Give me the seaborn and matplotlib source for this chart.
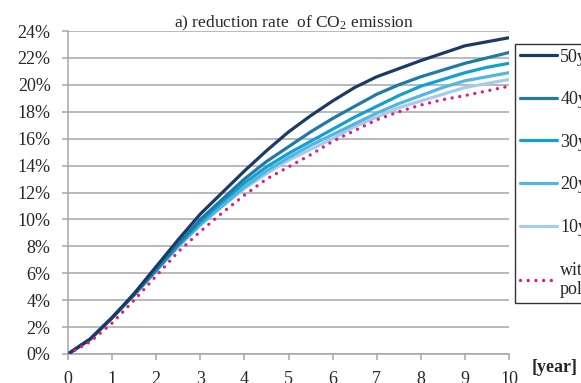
import matplotlib
matplotlib.use("Agg")
import matplotlib.pyplot as plt
import seaborn as sns
import pandas as pd
from matplotlib.ticker import FuncFormatter, MultipleLocator

years = [0, 0.5, 1, 1.5, 2, 2.5, 3, 3.5, 4, 4.5, 5, 5.5, 6, 6.5, 7, 7.5, 8, 8.5, 9, 9.5, 10]
y50 = [0, 1.1, 2.7, 4.5, 6.5, 8.5, 10.4, 12.0, 13.6, 15.1, 16.5, 17.7, 18.8, 19.8, 20.6, 21.2, 21.8, 22.35, 22.9, 23.2, 23.5]
y40 = [0, 1.1, 2.7, 4.4, 6.3, 8.2, 10.0, 11.5, 13.0, 14.3, 15.4, 16.5, 17.5, 18.4, 19.3, 20.0, 20.6, 21.1, 21.6, 22.0, 22.4]
y30 = [0, 1.1, 2.7, 4.4, 6.2, 8.1, 9.8, 11.3, 12.7, 13.9, 14.9, 15.8, 16.7, 17.6, 18.4, 19.2, 19.9, 20.4, 20.9, 21.3, 21.6]
y20 = [0, 1.1, 2.7, 4.4, 6.2, 8.0, 9.6, 11.0, 12.4, 13.6, 14.6, 15.5, 16.3, 17.1, 17.9, 18.6, 19.2, 19.8, 20.3, 20.6, 20.9]
y10 = [0, 1.1, 2.7, 4.4, 6.2, 8.0, 9.6, 11.0, 12.3, 13.4, 14.4, 15.2, 16.0, 16.9, 17.6, 18.3, 18.8, 19.3, 19.8, 20.1, 20.4]
ywo = [0, 0.9, 2.3, 4.0, 5.8, 7.6, 9.1, 10.5, 11.8, 13.0, 13.9, 14.8, 15.8, 16.6, 17.4, 18.0, 18.5, 18.9, 19.2, 19.55, 19.9]

labels = ["50y", "40y", "30y", "20y", "10y", "without\npolicy"]
colors = ["#1B3A66", "#1F7BA6", "#12A0D2", "#52B5E6", "#A3CDEB", "#E5197E"]
series = [y50, y40, y30, y20, y10, ywo]

sns.set_style("white")
plt.rcParams["font.family"] = ["Liberation Serif", "DejaVu Serif"]
plt.rcParams["mathtext.fontset"] = "custom"
plt.rcParams["mathtext.rm"] = "Liberation Serif"
plt.rcParams["mathtext.it"] = "Liberation Serif:italic"

fig = plt.figure(figsize=(5.81, 3.83), dpi=100)
ax = fig.add_axes([68 / 581, 29 / 383, 441 / 581, 323 / 383])

grid_c = "#A6A6A6"
order = [4, 3, 2, 1, 0, 5]
for i in order:
    df = pd.DataFrame({"year": years, "rate": series[i]})
    kw = dict(color=colors[i], lw=2.3, label=labels[i], zorder=3 + (5 - i) if i < 5 else 10)
    if i == 5:
        kw.update(linestyle=(0, (0.01, 2.3)), dash_capstyle="round", lw=2.4)
    sns.lineplot(data=df, x="year", y="rate", ax=ax, legend=False, **kw)

ax.set_xlim(0, 10)
ax.set_ylim(0, 24)
ax.xaxis.set_major_locator(MultipleLocator(1))
ax.yaxis.set_major_locator(MultipleLocator(2))
ax.yaxis.set_major_formatter(FuncFormatter(lambda v, p: f"{v:.0f}%"))
ax.grid(axis="y", color=grid_c, lw=1.1)
ax.grid(axis="x", visible=False)
for s in ["top", "right"]:
    ax.spines[s].set_visible(False)
for s in ["left", "bottom"]:
    ax.spines[s].set_color(grid_c)
    ax.spines[s].set_linewidth(1.1)
ax.tick_params(axis="x", length=4.5, width=1.1, color=grid_c, direction="out", pad=7.5, labelsize=13, bottom=True)
ax.tick_params(axis="y", length=4.5, width=1.1, color=grid_c, direction="out", pad=8, labelsize=13, left=True)
ax.set_xlabel("")
ax.set_ylabel("")

h, l = ax.get_legend_handles_labels()
lut = dict(zip(l, h))
leg = fig.legend([lut[k] for k in labels], labels, loc="upper left",
                 bbox_to_anchor=(515 / 581, 1 - 44 / 383), borderaxespad=0,
                 fontsize=13, frameon=True, fancybox=False, edgecolor="black",
                 handlelength=2.05, handletextpad=0.2, labelspacing=1.42, borderpad=0.25)
leg.get_frame().set_linewidth(1.0)

fig.text(294 / 581, 1 - 27 / 383, "a) reduction rate  of CO$_\\mathrm{2}$ emission",
         ha="center", va="baseline", fontsize=12.5)
fig.text(532 / 581, 1 - 367 / 383, "[year]", ha="left", va="center", fontsize=13, fontweight="bold")

fig.savefig("out.png", dpi=100)
